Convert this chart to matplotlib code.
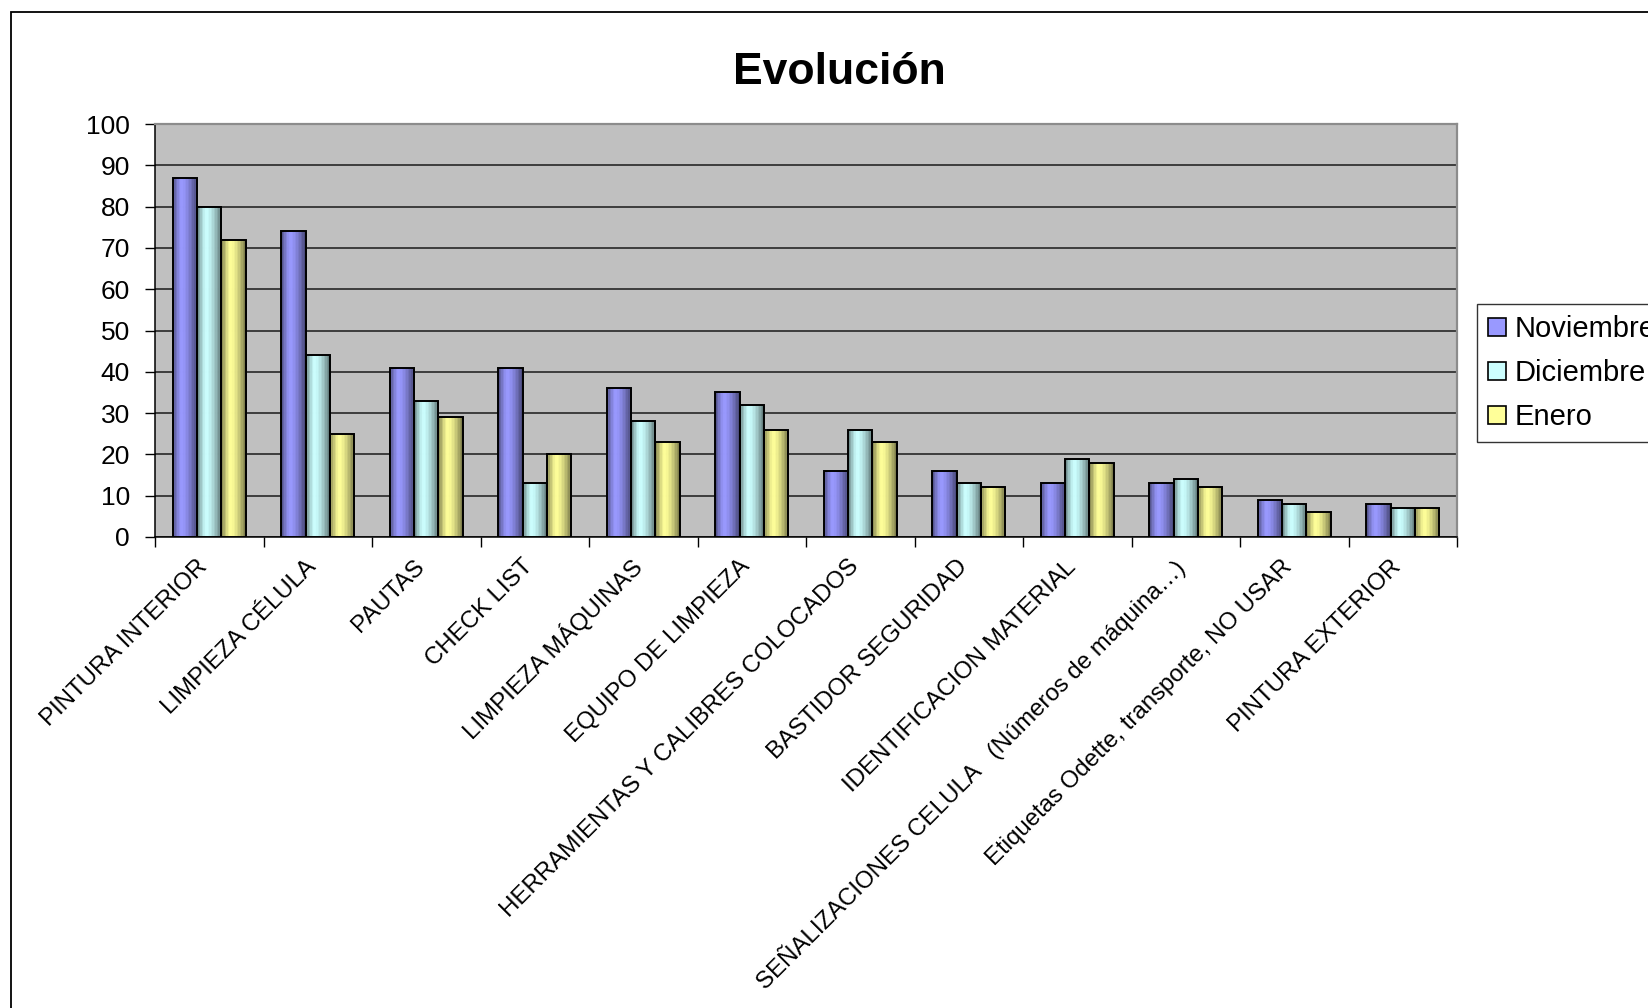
import numpy as np
import matplotlib
matplotlib.use("Agg")
import matplotlib.pyplot as plt
from matplotlib.patches import Rectangle, Patch
from matplotlib.transforms import ScaledTranslation
from matplotlib.colors import to_rgb

plt.rcParams['font.family'] = ['Liberation Sans', 'DejaVu Sans']

# ---- data ----
categories = [
    "PINTURA INTERIOR",
    "LIMPIEZA CÉLULA",
    "PAUTAS",
    "CHECK LIST",
    "LIMPIEZA MÁQUINAS",
    "EQUIPO DE LIMPIEZA",
    "HERRAMIENTAS Y CALIBRES COLOCADOS",
    "BASTIDOR SEGURIDAD",
    "IDENTIFICACION MATERIAL",
    "SEÑALIZACIONES CELULA   (Números de máquina…)",
    "Etiquetas Odette, transporte, NO USAR",
    "PINTURA EXTERIOR",
]
series_names = ["Noviembre", "Diciembre", "Enero"]
noviembre = [87, 74, 41, 41, 36, 35, 16, 16, 13, 13, 9, 8]
diciembre = [80, 44, 33, 13, 28, 32, 26, 13, 19, 14, 8, 7]
enero = [72, 25, 29, 20, 23, 26, 23, 12, 18, 12, 6, 7]
series_values = [noviembre, diciembre, enero]
series_colors = ["#9999FF", "#CCFFFF", "#FFFF99"]
y_ticks = list(range(0, 101, 10))

# ---- figure ----
W, H = 1648, 1008
fig = plt.figure(figsize=(W / 100, H / 100), dpi=100)
fig.patch.set_facecolor("white")

# outer chart frame
fig.add_artist(Rectangle((11 / W, -0.05), 1.2, 1 - 12 / H + 0.05,
                         transform=fig.transFigure, fill=False,
                         edgecolor="black", linewidth=1.3))

ax = fig.add_axes([155 / W, 1 - 537 / H, (1457 - 155) / W, (537 - 124) / H])
ax.set_facecolor("#C0C0C0")

n = len(categories)
x = np.arange(n)
bar_w = 0.225
n_strips = 16


def shade(t):
    """Light/dark factor across a bar (0 = left edge, 1 = right edge)."""
    peak = 0.36
    if t < peak:
        return 1 - 0.50 * abs((t - peak) / peak) ** 1.4
    return 1 - 0.55 * abs((t - peak) / (1 - peak)) ** 1.6


strip_w = bar_w / n_strips
for k, (vals, col) in enumerate(zip(series_values, series_colors)):
    offs = (k - 1) * bar_w
    base = np.array(to_rgb(col))
    # shaded fill built from narrow vertical strips
    for j in range(n_strips):
        t = (j + 0.5) / n_strips
        c = tuple(np.clip(base * shade(t), 0, 1))
        ax.bar(x + offs - bar_w / 2 + (j + 0.5) * strip_w, vals,
               width=strip_w, color=c, edgecolor=c, linewidth=0.6,
               zorder=3)
    ax.bar(x + offs, vals, width=bar_w, fill=False, edgecolor="black",
           linewidth=1.4, zorder=4)

ax.set_xlim(-0.5, n - 0.5)
ax.set_ylim(0, 100)

# y axis
ax.set_yticks(y_ticks)
ax.set_yticklabels([str(v) for v in y_ticks], fontsize=19)
ax.tick_params(axis="y", length=7, width=1, pad=11, direction="out")
ax.yaxis.grid(True, color="#1a1a1a", linewidth=1.1, zorder=1)
ax.set_axisbelow(True)

# x axis: ticks at category boundaries, labels at centres
ax.set_xticks(np.arange(n + 1) - 0.5)
ax.set_xticklabels([])
ax.tick_params(axis="x", which="major", length=7, width=1, direction="out")
ax.set_xticks(x, minor=True)
ax.set_xticklabels(categories, minor=True, rotation=45, ha="right",
                   va="center", rotation_mode="anchor", fontsize=17.3)
ax.tick_params(axis="x", which="minor", length=0, pad=19)
for lbl in ax.get_xticklabels(minor=True):
    lbl.set_transform(lbl.get_transform() +
                      ScaledTranslation(-5 / 100, 0, fig.dpi_scale_trans))

for s in ("left", "bottom"):
    ax.spines[s].set_color("black")
    ax.spines[s].set_linewidth(1.1)
for s in ("top", "right"):
    ax.spines[s].set_color("#8c8c8c")
    ax.spines[s].set_linewidth(1.6)

fig.text(839 / W, 1 - 72 / H, "Evolución", ha="center", va="center",
         fontsize=32, fontweight="bold")

handles = [Patch(facecolor=c, edgecolor="black", linewidth=1.2)
           for c in series_colors]
leg = fig.legend(handles, series_names, loc="upper left",
                 bbox_to_anchor=(1477 / W, 1 - 304 / H),
                 fontsize=21, frameon=True, fancybox=False,
                 edgecolor="black", handlelength=0.6, handleheight=0.6,
                 handletextpad=0.3, labelspacing=0.55, borderpad=0.38,
                 borderaxespad=0)
leg.get_frame().set_linewidth(1.0)

fig.savefig("out.png", dpi=100)
